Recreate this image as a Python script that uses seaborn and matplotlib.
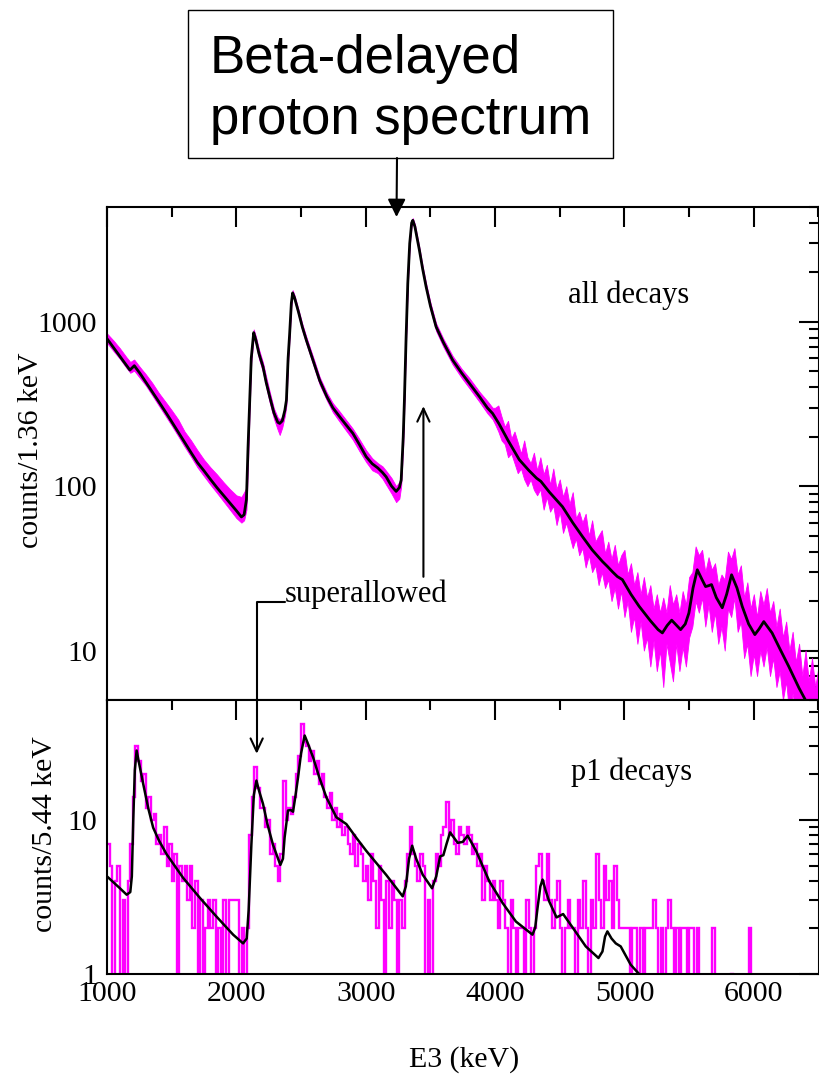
import numpy as np
import matplotlib
matplotlib.use("Agg")
import matplotlib.pyplot as plt
import seaborn as sns
from matplotlib.patches import Rectangle
from matplotlib.ticker import LogLocator, NullFormatter, MultipleLocator, FuncFormatter

# ---------------- data ----------------
# Top panel: fit curve (all decays)
TOP_FIT_E = [1000, 1050, 1100, 1150, 1177, 1211, 1255, 1300, 1350, 1400, 1460, 1500, 1550, 1600, 1650,
             1700, 1750, 1800, 1850, 1900, 1950, 2000, 2039, 2060, 2078, 2090, 2103, 2115, 2134, 2150,
             2175, 2206, 2230, 2258, 2290, 2320, 2335, 2355, 2375, 2387, 2400, 2412, 2425, 2435, 2450,
             2480, 2510, 2541, 2600, 2644, 2700, 2746, 2798, 2850, 2900, 2950, 3004, 3050, 3094, 3130,
             3158, 3200, 3235, 3260, 3274, 3290, 3299, 3312, 3325, 3340, 3355, 3364, 3380, 3400, 3415,
             3440, 3467, 3500, 3544, 3600, 3672, 3740, 3801, 3880, 3940, 3981, 4030, 4100, 4187, 4260,
             4320, 4354, 4420, 4495, 4521, 4600, 4675, 4750, 4830, 4868, 4910, 4945, 4984, 5050, 5113,
             5200, 5260, 5293, 5330, 5365, 5400, 5434, 5470, 5498, 5530, 5563, 5600, 5627, 5650, 5673,
             5710, 5756, 5790, 5828, 5870, 5910, 5960, 6008, 6040, 6077, 6141, 6200, 6270, 6350, 6399,
             6500]
TOP_FIT = [790, 698, 617, 545, 509, 541, 486, 430, 375, 327, 277, 247, 214, 185, 160,
           139, 124, 110, 98, 88, 79, 71, 65, 67, 83, 170, 334, 600, 860, 780,
           640, 533, 430, 350, 280, 245, 241, 250, 290, 334, 600, 850, 1300, 1500, 1400,
           1150, 930, 774, 560, 440, 350, 300, 265, 235, 210, 180, 151, 137, 129, 121,
           114, 100, 93, 98, 109, 200, 334, 800, 1711, 3000, 4000, 4150, 3800, 3150, 2730,
           2100, 1633, 1250, 933, 750, 585, 490, 423, 350, 300, 277, 240, 190, 145, 125,
           112, 107, 92, 79, 75, 60, 49.4, 41, 34.8, 32.5, 30, 28.2, 27, 22, 18.6,
           15.2, 13.4, 12.8, 14.2, 15.3, 14.3, 13.4, 14.5, 16.9, 24, 31, 27, 24.5, 24.8, 25.2,
           21, 18.2, 22, 28.9, 24, 18.6, 14.5, 12.5, 13.5, 15, 12.8, 10.3, 8.0, 5.9, 5.0,
           3.9]

# Top panel: extent of the noisy histogram (upper / lower envelope)
TOP_BAND_E = [1000, 1050, 1100, 1150, 1180, 1210, 1255, 1300, 1350, 1400, 1460, 1500, 1550, 1600, 1650,
              1700, 1750, 1800, 1850, 1900, 1950, 2000, 2039, 2060, 2078, 2090, 2103, 2115, 2134, 2150,
              2175, 2206, 2230, 2258, 2290, 2320, 2335, 2355, 2375, 2387, 2400, 2412, 2425, 2435, 2450,
              2480, 2510, 2541, 2600, 2644, 2700, 2746, 2798, 2850, 2900, 2950, 3004, 3050, 3094, 3130,
              3158, 3200, 3235, 3260, 3274, 3290, 3299, 3312, 3325, 3340, 3355, 3364, 3380, 3400, 3415,
              3440, 3467, 3500, 3544, 3600, 3672, 3740, 3801, 3880, 3940, 3981,
              4000, 4025, 4050, 4075, 4100, 4125, 4150, 4175, 4200, 4225, 4250, 4275, 4300, 4325, 4350,
              4375, 4400, 4425, 4450, 4475, 4500, 4525, 4550, 4575, 4600, 4625, 4650, 4675, 4700, 4725,
              4750, 4775, 4800, 4825, 4850, 4875, 4900, 4925, 4950, 4975, 5000, 5025, 5050, 5075, 5100,
              5125, 5150, 5175, 5200, 5225, 5250, 5275, 5300, 5325, 5350, 5375, 5400, 5425, 5450, 5475,
              5500, 5525, 5550, 5575, 5600, 5625, 5650, 5675, 5700, 5725, 5750, 5775, 5800, 5825, 5850,
              5875, 5900, 5925, 5950, 5975, 6000, 6025, 6050, 6075, 6100, 6125, 6150, 6175, 6200, 6225,
              6250, 6275, 6300, 6325, 6350, 6375, 6400, 6425, 6450, 6475, 6500]
TOP_BAND_HI = [850, 770, 690, 610, 570, 590, 530, 480, 425, 370, 320, 290, 255, 215, 190,
               165, 145, 130, 118, 106, 96, 88, 86, 92, 98, 190, 360, 640, 900, 820,
               680, 565, 465, 375, 298, 262, 255, 265, 308, 352, 625, 885, 1340, 1560, 1450,
               1190, 970, 810, 590, 462, 370, 320, 285, 252, 224, 194, 165, 148, 138, 132,
               124, 112, 100, 106, 118, 215, 355, 840, 1770, 3080, 4130, 4280, 3930, 3260, 2830,
               2180, 1710, 1310, 980, 790, 620, 520, 455, 375, 330, 300,
               300, 310, 265, 230, 250, 195, 215, 185, 158, 190, 150, 138, 160, 125, 150,
               118, 135, 102, 128, 96, 110, 86, 100, 78, 92, 64, 70, 60, 68, 50,
               62, 46, 50, 54, 39, 46, 36, 44, 33, 38, 41, 29, 34, 25, 30,
               22, 28, 21, 25, 18, 22, 17, 21, 17, 25, 19, 22, 17, 23, 19,
               28, 30, 43, 38, 41, 30, 37, 31, 34, 25, 29, 27, 40, 36, 42,
               29, 33, 21, 26, 18, 22, 16, 23, 19, 24, 17, 20, 14, 18, 12,
               15, 10, 13, 8.5, 11, 7, 10, 6.5, 9, 6, 8]
TOP_BAND_LO = [745, 665, 595, 525, 490, 505, 455, 410, 357, 310, 262, 234, 202, 174, 151,
               130, 115, 102, 91, 81, 72, 64, 60, 62, 72, 135, 295, 565, 805, 735,
               595, 495, 402, 322, 258, 220, 205, 228, 268, 312, 565, 805, 1245, 1445, 1345,
               1095, 885, 735, 530, 415, 332, 282, 247, 217, 192, 164, 140, 125, 120, 111,
               102, 90, 80, 84, 100, 180, 310, 760, 1640, 2900, 3850, 4000, 3650, 3030, 2620,
               2000, 1560, 1190, 880, 705, 550, 458, 395, 325, 278, 255,
               238, 215, 190, 180, 150, 158, 138, 120, 128, 110, 100, 110, 95, 88, 96,
               72, 86, 70, 76, 58, 70, 52, 60, 50, 42, 48, 38, 42, 32, 38,
               30, 33, 25, 30, 24, 27, 20, 24, 18, 23, 16, 20, 13, 16, 11,
               15, 10, 12, 8, 11.5, 7.5, 10, 6, 11, 8.5, 6.5, 11, 7.5, 10.5, 8,
               12, 14, 20, 17, 21, 14, 19, 13, 17, 11, 14, 10, 18, 16, 21,
               13, 15, 9, 11, 7, 9.5, 7, 10, 8, 10.5, 7, 9, 6, 7.5, 5,
               6.5, 4, 5.5, 4, 4.5, 3.5, 3.5, 3, 3.5, 3, 3]

# Bottom panel: fit curve (p1 decays)
BOT_FIT_E = [1000, 1100, 1152, 1180, 1192, 1203, 1215, 1229, 1245, 1280, 1320, 1357, 1400, 1460, 1589,
             1718, 1846, 1975, 2052, 2080, 2095, 2116, 2135, 2155, 2175, 2206, 2240, 2283, 2340, 2360,
             2373, 2399, 2420, 2438, 2455, 2477, 2500, 2528, 2555, 2593, 2640, 2696, 2773, 2850, 2930,
             3004, 3158, 3286, 3310, 3335, 3359, 3390, 3441, 3513, 3545, 3575, 3600, 3625, 3652, 3711,
             3750, 3788, 3853, 3955, 4058, 4161, 4289, 4310, 4328, 4350, 4367, 4390, 4418, 4475, 4526,
             4611, 4701, 4799, 4830, 4850, 4868, 4900, 4933, 4971, 5048, 5113, 5200]
BOT_FIT = [4.3, 3.6, 3.27, 3.4, 4.3, 10.0, 21.0, 28.2, 24.0, 17.1, 11.8, 8.9, 7.4, 6.0, 4.2,
           3.12, 2.36, 1.8, 1.58, 1.7, 2.6, 6.9, 14.5, 18.0, 15.5, 12.7, 9.4, 6.9, 5.1, 5.6,
           7.7, 11.5, 11.6, 11.3, 14.0, 18.9, 27.0, 35.3, 31.0, 25.5, 19.0, 14.0, 10.4, 9.4, 7.6,
           6.3, 4.4, 3.19, 3.7, 5.6, 6.8, 5.6, 4.4, 3.6, 4.3, 5.8, 5.9, 7.0, 8.3, 7.1,
           7.2, 7.9, 6.3, 4.0, 2.89, 2.19, 1.8, 2.0, 2.68, 3.7, 4.1, 3.5, 2.96, 2.33, 2.45,
           1.94, 1.51, 1.27, 1.4, 1.75, 1.89, 1.7, 1.58, 1.51, 1.15, 1.0, 0.8]

# Bottom panel: histogram counts in 20 keV bins from 1000 to 6500 keV
BOT_BIN_START = 1000
BOT_BIN_WIDTH = 20
BOT_COUNTS = [7, 5, 0, 4, 5, 0, 3, 0, 4, 7,
              14, 30, 24, 18, 20, 12, 14, 10, 11, 7,
              8, 6, 9, 5, 7, 4, 6, 0, 5, 4,
              5, 3, 5, 2, 4, 0, 3, 0, 2, 3,
              2, 3, 0, 2, 1, 3, 0, 3, 3, 3,
              3, 0, 2, 0, 2, 8, 14, 22, 16, 12,
              12, 9, 10, 6, 7, 5, 4, 6, 18, 10,
              12, 11, 14, 20, 26, 42, 32, 30, 24, 28,
              20, 24, 17, 20, 14, 12, 15, 10, 12, 9,
              11, 8, 9, 7, 6, 8, 5, 7, 6, 4,
              5, 3, 6, 4, 2, 5, 3, 0, 4, 2,
              4, 3, 0, 3, 2, 4, 6, 9, 6, 5,
              4, 6, 5, 0, 3, 0, 4, 6, 5, 8,
              9, 13, 8, 10, 7, 6, 9, 8, 7, 9,
              8, 6, 7, 5, 6, 3, 5, 4, 3, 4,
              3, 2, 4, 3, 2, 0, 3, 2, 1, 2,
              2, 1, 3, 2, 0, 2, 5, 6, 4, 3,
              6, 3, 2, 3, 4, 2, 1, 2, 3, 2,
              2, 1, 3, 2, 4, 2, 1, 3, 2, 6,
              3, 2, 5, 3, 4, 2, 5, 3, 2, 2,
              2, 2, 1, 2, 2, 0, 2, 1, 2, 2,
              2, 3, 2, 0, 2, 1, 2, 3, 2, 1,
              2, 0, 2, 2, 0, 2, 2, 0, 2, 0,
              0, 0, 0, 0, 2, 0, 0, 0, 0, 0,
              0, 1, 0, 0, 0, 0, 0, 0, 2, 0,
              0, 0, 0, 0, 0, 0, 0, 0, 0, 0,
              0, 0, 0, 0, 0, 0, 0, 0, 0, 0,
              0, 0, 0, 0, 0]

X_TICKS = [1000, 2000, 3000, 4000, 5000, 6000]
TOP_YTICKS = [10, 100, 1000]
BOT_YTICKS = [1, 10]

TITLE_LINES = ["Beta-delayed", "proton spectrum"]
TOP_LABEL = "all decays"
BOT_LABEL = "p1 decays"
TOP_YLABEL = "counts/1.36 keV"
BOT_YLABEL = "counts/5.44 keV"
XLABEL = "E3 (keV)"
ANNOT = "superallowed"

# ---------------- style ----------------
sns.set_theme(style="white")
plt.rcParams["font.family"] = ["Liberation Serif", "DejaVu Serif"]
plt.rcParams.update({
    "text.color": "black", "axes.labelcolor": "black",
    "xtick.color": "black", "ytick.color": "black",
    "axes.edgecolor": "black",
})
MAG = "#ff00ff"
FS = 21.5

W, H = 819, 1077
fig = plt.figure(figsize=(W / 100, H / 100), dpi=100)


def px_rect(l, t, r, b):
    return [l / W, 1 - b / H, (r - l) / W, (b - t) / H]


ax_top = fig.add_axes(px_rect(107, 207, 818.5, 700))
ax_bot = fig.add_axes(px_rect(107, 700, 818.5, 974))

# ---- top panel ----
ax_top.set_yscale("log")
ax_top.set_xlim(1000, 6500)
ax_top.set_ylim(5, 5000)
ax_top.fill_between(TOP_BAND_E, TOP_BAND_LO, TOP_BAND_HI, color=MAG, lw=0.6, edgecolor=MAG)
sns.lineplot(x=TOP_FIT_E, y=TOP_FIT, ax=ax_top, color="black", linewidth=2.0,
             estimator=None, sort=False, legend=False)

# ---- bottom panel ----
ax_bot.set_yscale("log")
ax_bot.set_xlim(1000, 6500)
ax_bot.set_ylim(1, 60)
counts = np.array(BOT_COUNTS, dtype=float)
edges = BOT_BIN_START + BOT_BIN_WIDTH * np.arange(len(counts) + 1)
ax_bot.stairs(np.where(counts > 0, counts, 0.01), edges, color=MAG, lw=1.7, baseline=None)
sns.lineplot(x=BOT_FIT_E, y=BOT_FIT, ax=ax_bot, color="black", linewidth=1.8,
             estimator=None, sort=False, legend=False)

fmt = FuncFormatter(lambda v, p: f"{v:g}")
for ax, yt in ((ax_top, TOP_YTICKS), (ax_bot, BOT_YTICKS)):
    ax.set_xticks(X_TICKS)
    ax.xaxis.set_minor_locator(MultipleLocator(500))
    ax.set_yticks(yt)
    ax.yaxis.set_major_formatter(fmt)
    ax.yaxis.set_minor_locator(LogLocator(base=10, subs=np.arange(2, 10), numticks=20))
    ax.yaxis.set_minor_formatter(NullFormatter())
    ax.tick_params(which="both", direction="in", top=True, right=True, width=1.5,
                   labelsize=FS, colors="black")
    ax.tick_params(which="major", length=14.5)
    ax.tick_params(which="minor", length=7.5)
    ax.tick_params(axis="y", pad=7)
    ax.tick_params(axis="x", pad=5)
    ax.set_xlabel("")
    ax.set_ylabel("")
    for s in ax.spines.values():
        s.set_linewidth(1.5)
        s.set_color("black")
    ax.grid(False)
ax_top.tick_params(labelbottom=False)

# ---- texts ----
fig.text(629 / W, 1 - 295 / H, TOP_LABEL, ha="center", va="center", fontsize=FS + 0.5)
fig.text(632 / W, 1 - 772 / H, BOT_LABEL, ha="center", va="center", fontsize=FS + 0.5)
fig.text(464 / W, 1 - 1060 / H, XLABEL, ha="center", va="center", fontsize=FS)
fig.text(31 / W, 1 - 450 / H, TOP_YLABEL, ha="center", va="center", rotation=90, fontsize=FS)
fig.text(45 / W, 1 - 834 / H, BOT_YLABEL, ha="center", va="center", rotation=90, fontsize=FS)
fig.text(285 / W, 1 - 602 / H, ANNOT, ha="left", va="baseline", fontsize=FS + 0.5)

# title box
fig.add_artist(Rectangle((188 / W, 1 - 158 / H), (613 - 188) / W, (158 - 10) / H,
                         transform=fig.transFigure, fill=False, lw=1.0, ec="black"))
fig.text(210 / W, 1 - 73 / H, TITLE_LINES[0], ha="left", va="baseline",
         fontsize=38, family=["Liberation Sans", "DejaVu Sans"])
fig.text(210 / W, 1 - 134 / H, TITLE_LINES[1], ha="left", va="baseline",
         fontsize=38, family=["Liberation Sans", "DejaVu Sans"])

# arrows
ax_top.annotate("", xy=(3238, 4345), xycoords="data", xytext=(397, H - 158),
                textcoords="figure pixels", annotation_clip=False,
                arrowprops=dict(arrowstyle="-|>,head_length=0.54,head_width=0.27",
                                mutation_scale=20, lw=1.5, color="black",
                                shrinkA=0, shrinkB=0))
ax_top.annotate("", xy=(3446, 307), xycoords="data", xytext=(3446, 28.1),
                textcoords="data", annotation_clip=False,
                arrowprops=dict(arrowstyle="->,head_length=0.47,head_width=0.22",
                                mutation_scale=20, lw=1.5, color="black",
                                shrinkA=0, shrinkB=0))
ax_bot.annotate("", xy=(2157, 26.8), xycoords="data", xytext=(2373, 19.8),
                textcoords=ax_top.transData, annotation_clip=False,
                arrowprops=dict(arrowstyle="->,head_length=0.47,head_width=0.22",
                                connectionstyle="angle,angleA=180,angleB=90,rad=0",
                                mutation_scale=20, lw=1.5, color="black",
                                shrinkA=0, shrinkB=0))

fig.savefig("out.png", dpi=100, facecolor="white")
